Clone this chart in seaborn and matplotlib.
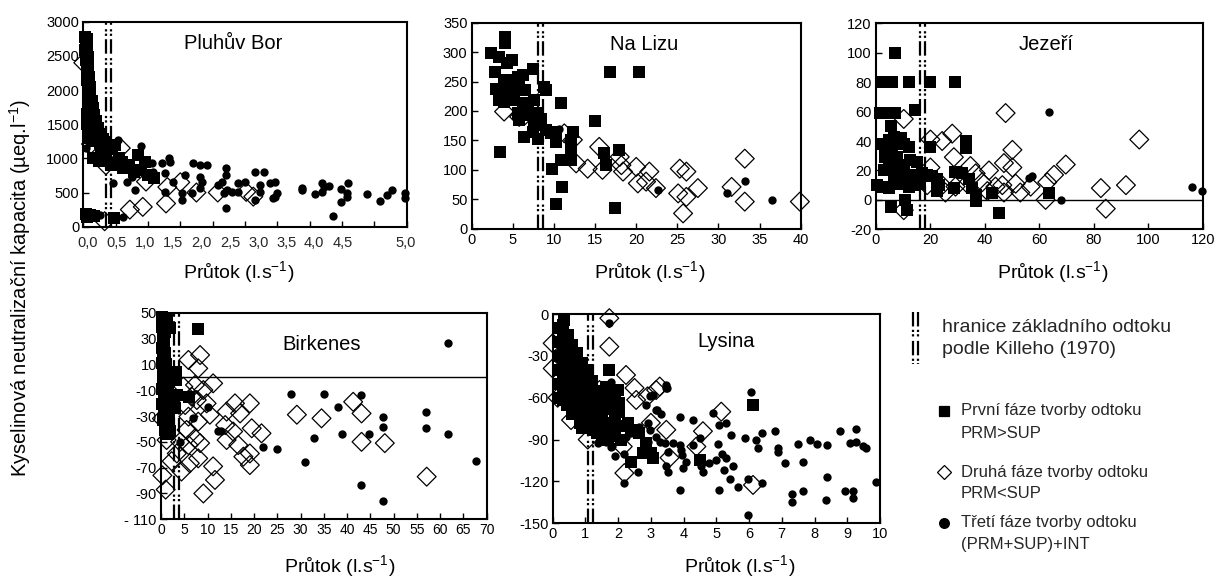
import matplotlib
matplotlib.use("Agg")
import matplotlib.pyplot as plt
from matplotlib.lines import Line2D
import seaborn as sns

sns.set_theme(style="white")
plt.rcParams["font.family"] = ["Liberation Sans", "DejaVu Sans"]
plt.rcParams["mathtext.fontset"] = "custom"
plt.rcParams["mathtext.rm"] = "Liberation Sans"
plt.rcParams["mathtext.it"] = "Liberation Sans:italic"
plt.rcParams["mathtext.default"] = "regular"

# ---------------------------------------------------------------- data
# (průtok, KNK) pairs for the three runoff-generation phases of each catchment

pluhuv_prvni = [
    (0.03, 2780), (0.05, 2740), (0.04, 2690), (0.06, 2640), (0.03, 2590), (0.05, 2540),
    (0.07, 2490), (0.04, 2440), (0.06, 2390), (0.08, 2340), (0.05, 2290), (0.07, 2240),
    (0.09, 2190), (0.06, 2140), (0.08, 2090), (0.10, 2040), (0.07, 1990), (0.11, 1940),
    (0.09, 1890), (0.13, 1840), (0.10, 1790), (0.15, 1740), (0.12, 1690), (0.17, 1640),
    (0.14, 1590), (0.20, 1540), (0.16, 1490), (0.23, 1440), (0.19, 1400), (0.27, 1360),
    (0.22, 1320), (0.30, 1290), (0.33, 1240), (0.26, 1220), (0.38, 1180), (0.45, 1140),
    (0.05, 1650), (0.05, 1500), (0.08, 1400), (0.10, 1300), (0.13, 1250),
    (0.15, 1005), (0.43, 908), (0.62, 860), (0.85, 1054), (0.90, 835), (1.10, 713),
    (0.28, 1104), (0.49, 1200), (0.56, 1005), (0.70, 900), (0.78, 800), (1.00, 760),
    (0.35, 1000), (0.25, 960), (0.95, 950), (0.60, 950),
    (0.04, 190), (0.10, 170), (0.16, 150), (0.06, 140), (0.48, 125),
]
pluhuv_druha = [
    (0.00, 2400), (0.12, 1210), (0.35, 900), (0.58, 1150), (0.72, 250), (0.92, 290),
    (0.97, 660), (1.28, 340), (1.30, 580), (1.50, 650), (1.75, 500), (2.08, 500),
    (2.52, 510), (2.63, 440), (0.33, 80),
]
pluhuv_treti = [
    (0.04, 1146), (0.54, 1268), (0.90, 1185), (0.46, 634), (0.67, 659), (0.80, 537),
    (0.85, 805), (1.06, 927), (1.08, 805), (1.21, 927), (1.27, 780), (1.32, 1000),
    (1.34, 951), (1.27, 512), (1.39, 659), (1.52, 488), (1.52, 390), (1.58, 756),
    (1.68, 488), (1.70, 937), (1.81, 732), (1.83, 659), (1.81, 561), (1.81, 902),
    (1.91, 902), (2.09, 610), (2.14, 659), (2.17, 488), (2.20, 854), (2.20, 756),
    (2.20, 268), (2.22, 537), (2.30, 512), (2.40, 512), (2.40, 634), (2.50, 659),
    (2.66, 805), (2.66, 390), (2.74, 610), (2.74, 512), (2.79, 805), (2.89, 634),
    (2.97, 659), (3.00, 488), (2.97, 439), (2.94, 415), (3.38, 561), (3.38, 537),
    (3.59, 478), (3.69, 634), (3.69, 512), (3.72, 585), (3.80, 595), (3.87, 156),
    (3.98, 546), (3.99, 366), (4.08, 498), (4.09, 644), (4.08, 439), (4.39, 478),
    (4.59, 376), (4.70, 463), (4.78, 537), (4.98, 498), (4.98, 424),
    (0.26, 171), (0.46, 141), (0.62, 146), (0.30, 1100), (0.45, 980), (0.55, 950),
    (0.70, 880), (0.75, 720), (0.95, 750),
]

nalizu_prvni = [
    (2.3, 298), (3.3, 292), (2.85, 267), (4.07, 326), (4.07, 315), (4.35, 281),
    (4.96, 287), (3.94, 253), (3.94, 238), (3.94, 224), (3.94, 216), (4.76, 253),
    (4.96, 238), (5.16, 224), (4.76, 219), (5.57, 258), (5.77, 244), (6.18, 261),
    (6.5, 236), (6.18, 213), (5.57, 196), (5.77, 185), (6.8, 207), (7.4, 272),
    (7.0, 193), (6.38, 156), (7.6, 219), (8.0, 196), (7.6, 179), (8.2, 176),
    (8.0, 153), (7.4, 165), (8.8, 241), (9.0, 236), (8.4, 187), (9.0, 168),
    (9.6, 162), (10.2, 148), (10.85, 213), (10.2, 165), (9.75, 102), (10.2, 42),
    (10.85, 116), (10.98, 70), (12.3, 165), (12.07, 134), (12.07, 117), (12.07, 151),
    (3.5, 131), (15.0, 183), (16.1, 128), (16.3, 108), (16.8, 267), (17.9, 134),
    (17.4, 35), (20.4, 267), (3.3, 219), (2.9, 238),
]
nalizu_druha = [
    (3.94, 199), (5.77, 190), (6.5, 193), (11.26, 162), (12.3, 151), (12.7, 111),
    (14.1, 102), (15.5, 139), (15.9, 100), (18.0, 122), (18.2, 108), (18.4, 97),
    (20.0, 105), (20.2, 77), (21.2, 80), (21.6, 97), (22.4, 69), (25.3, 102),
    (25.1, 60), (25.7, 26), (26.1, 97), (26.1, 54), (27.5, 69), (31.6, 71),
    (33.2, 119), (33.2, 46), (39.9, 46),
]
nalizu_treti = [(22.6, 65), (31.0, 60), (33.2, 81), (36.5, 48), (10.6, 170)]

jezeri_prvni = [
    (7.1, 100), (2.2, 80), (5.9, 80), (12.3, 80), (20.0, 80), (29.2, 80),
    (1.6, 59), (4.0, 59), (7.1, 59), (14.5, 61), (5.5, 50), (5.6, -5),
    (10.8, 0), (11.4, -7), (45.2, -9), (20.0, 36), (32.9, 40), (32.9, 35),
    (28.6, 8), (29.2, 19), (31.7, 18), (34.1, 14), (35.3, 8), (36.6, -1),
    (36.6, 3), (42.7, 5), (63.6, 5), (22.5, 6),
    (2.2, 38), (3.4, 34), (4.7, 41), (6.5, 43), (9.0, 42), (10.2, 38), (12.0, 36),
    (3.4, 29), (5.9, 27), (7.7, 29), (2.8, 20), (4.7, 23), (6.5, 19), (10.2, 24),
    (12.6, 27), (15.1, 26), (0.4, 10), (2.2, 9), (4.7, 8), (6.5, 12), (8.3, 11),
    (10.8, 14), (12.6, 17), (14.5, 16), (16.9, 18), (18.8, 17), (20.6, 16),
    (22.5, 14), (23.1, 10), (16.3, 11), (12.0, 9), (14.5, 10), (5.9, 32),
    (5.9, 36), (9.0, 18), (7.1, 16),
]
jezeri_druha = [
    (10.2, 55), (10.2, -7), (20.0, 41), (24.3, 40), (28.0, 45), (28.6, 29),
    (20.0, 22), (18.8, 10), (24.3, 10), (25.5, 5), (34.7, 23), (36.6, 18),
    (41.5, 20), (39.0, 12), (40.9, 6), (43.9, 9), (46.4, 10), (47.0, 5),
    (47.6, 59), (47.0, 25), (50.1, 34), (50.1, 22), (51.3, 11), (53.0, 5),
    (56.8, 9), (62.3, 0), (62.9, 12), (65.4, 17), (69.7, 24), (82.6, 8),
    (84.4, -6), (91.8, 10), (96.7, 41), (33.5, 11), (29.2, 9),
]
jezeri_treti = [(63.6, 60), (56.2, 15), (57.2, 16), (67.9, 0), (116.0, 8.6), (119.6, 5.7)]

birkenes_prvni = [
    (0.3, 47), (0.6, 43), (0.3, 39), (0.8, 35), (0.4, 31), (0.7, 27), (0.3, 23),
    (0.9, 19), (0.5, 15), (0.3, 11), (0.8, 7), (0.4, 3), (1.0, -1), (0.5, -5),
    (0.3, -9), (1.1, -13), (0.6, -17), (0.3, -21), (1.3, -25), (0.7, -29),
    (0.4, -33), (1.5, -37), (0.9, -41), (1.6, -44), (1.2, 45), (1.9, 38),
    (8.0, 37), (3.2, 4), (3.2, -2), (3.4, -14), (6.1, -15), (2.6, -19),
    (3.0, -24), (1.9, -42), (1.2, -20), (1.5, -10), (1.7, -30), (1.1, 10),
]
birkenes_druha = [
    (0.3, -76), (1.0, -87), (0.2, -32), (5.9, 13.4), (8.4, 17.2), (8.0, 6.9),
    (11.2, -4.7), (4.8, -7.3), (7.3, -6), (6.6, -15), (9.1, -9.9), (7.7, -17.6),
    (5.2, -21.5), (9.8, -20.2), (10.5, -29), (5.9, -30.5), (8.0, -34.4),
    (5.5, -40.8), (7.3, -47.3), (8.4, -51), (5.9, -52.5), (4.1, -50), (3.4, -59),
    (6.2, -66.6), (4.4, -73), (2.3, -65), (8.0, -62.8), (11.2, -69), (11.6, -79.5),
    (9.1, -90), (15.9, -20.2), (14.1, -26.6), (17.0, -28), (19.1, -20.2),
    (13.8, -37), (15.5, -42), (14.1, -48.6), (16.6, -52.5), (19.5, -39.5),
    (21.6, -43.4), (19.1, -59), (19.1, -68), (17.7, -61.5), (29.2, -29),
    (34.5, -31.8), (41.3, -19), (43.1, -28), (43.1, -50), (48.1, -51),
    (57.1, -77), (1.2, -48.6),
]
birkenes_treti = [
    (10.0, -23.3), (12.3, -42), (13.0, -41.6), (6.9, -31.8), (4.1, -50), (1.9, -43.4),
    (22.0, -54), (25.0, -55.8), (28.0, -13.2), (31.0, -65.4), (32.9, -47.3),
    (35.0, -13.2), (38.0, -23.3), (38.8, -44), (43.0, -14), (43.0, -83.4),
    (44.8, -44), (47.8, -31), (47.8, -38.3), (47.8, -95.5), (57.0, -26.6),
    (57.0, -39), (61.7, 26.8), (61.7, -44), (67.7, -64.6),
]

lysina_prvni = [
    (0.36, -4.3), (0.46, -15), (0.82, -40), (1.73, -40), (0.31, -61.6), (0.82, -78),
    (0.97, -73.6), (1.63, -52), (1.99, -54.5), (1.84, -61.6), (2.04, -64),
    (1.43, -80.7), (1.63, -85.5), (1.22, -83), (2.3, -78.3), (2.4, -105.8),
    (2.65, -85.5), (2.76, -99.8), (3.0, -99.8), (3.06, -103), (4.5, -104.6),
    (6.12, -65.2), (1.89, -76), (2.04, -70), (2.4, -83), (2.86, -92.7),
    (0.15, -10), (0.15, -20), (0.15, -30), (0.15, -40), (0.15, -50), (0.15, -60),
    (0.30, -8), (0.30, -18), (0.30, -28), (0.30, -38), (0.30, -48), (0.30, -58),
    (0.45, -25), (0.45, -35), (0.45, -45), (0.45, -55), (0.45, -65),
    (0.60, -22), (0.60, -32), (0.60, -42), (0.60, -52), (0.60, -62), (0.60, -72),
    (0.75, -28), (0.75, -38), (0.75, -48), (0.75, -58), (0.75, -68),
    (0.90, -35), (0.90, -45), (0.90, -55), (0.90, -65), (0.90, -82),
    (1.05, -40), (1.05, -50), (1.05, -60), (1.05, -70), (1.05, -80),
    (1.20, -48), (1.20, -58), (1.20, -68), (1.20, -76),
    (1.35, -55), (1.35, -65), (1.35, -75), (1.35, -85),
    (1.50, -60), (1.50, -70), (1.50, -88),
    (1.70, -58), (1.70, -68), (1.70, -78), (1.70, -90),
    (1.90, -62), (1.90, -84), (2.10, -80), (2.10, -90),
]
lysina_druha = [
    (1.73, -3), (1.73, -23.4), (0.0, -21), (0.0, -39), (0.15, -60), (0.56, -76),
    (1.07, -90), (2.24, -43.7), (2.5, -53), (2.55, -61.6), (2.9, -59), (3.27, -52),
    (3.16, -54.5), (2.19, -114), (2.14, -95), (3.47, -83), (3.57, -103),
    (4.39, -95), (4.59, -84), (5.15, -70), (6.12, -122.5), (3.0, -78),
    (1.43, -54.5), (0.8, -69),
]
lysina_treti = [
    (0.26, -11.5), (1.73, -6.7), (6.07, -56), (3.47, -51), (3.47, -53), (3.06, -58),
    (2.86, -65), (1.79, -48.5), (1.33, -55.6), (3.16, -69), (3.3, -72), (3.88, -73.5),
    (4.29, -76), (4.9, -71), (5.08, -79.5), (5.3, -78.3), (2.9, -78), (2.65, -80.7),
    (2.4, -85.5), (2.24, -88), (1.94, -89), (1.63, -91.5), (1.38, -92.7), (1.79, -95),
    (1.89, -102), (2.19, -100), (2.19, -121), (2.6, -113.5), (2.96, -83), (3.16, -88),
    (3.27, -91.5), (3.42, -92.7), (3.52, -98.6), (3.67, -92.7), (3.52, -113),
    (3.47, -109), (3.88, -94), (3.93, -97.5), (3.96, -101), (3.98, -110.6),
    (3.88, -126), (4.08, -105.8), (4.29, -94), (4.54, -109), (4.59, -113),
    (4.78, -107), (4.99, -104.6), (5.05, -93), (5.08, -126), (5.18, -100),
    (5.22, -112), (5.29, -103.4), (5.41, -118), (5.46, -87), (5.51, -109),
    (5.66, -124), (5.87, -89), (5.97, -118), (5.97, -144), (6.22, -90), (6.28, -96),
    (6.38, -121), (6.38, -85), (6.79, -84), (6.89, -96), (6.89, -98.6),
    (7.09, -106.5), (7.3, -129), (7.3, -135), (7.5, -93), (7.65, -126.6),
    (7.65, -105.8), (7.86, -90), (8.06, -93), (8.37, -94), (8.37, -117),
    (8.35, -133), (8.78, -84), (8.93, -126.6), (9.08, -92.7), (9.18, -126.6),
    (9.18, -132), (9.27, -91.5), (9.27, -82.6), (9.47, -94.6), (9.57, -96.2),
    (9.88, -120.6), (4.49, -89), (1.12, -76), (1.8, -94.6), (2.36, -84.3),
    (2.92, -91.5), (2.97, -59), (3.48, -53), (3.18, -68.8),
]

# baseflow limit after Kille (1970): pair of flow values per catchment
pluhuv_hranice = [0.35, 0.43]
nalizu_hranice = [8.1, 8.7]
jezeri_hranice = [16.2, 18.0]
birkenes_hranice = [2.7, 3.85]
lysina_hranice = [1.08, 1.24]

# tick values and labels
pluhuv_xticks = [0.0, 0.5, 1.0, 1.5, 2.0, 2.5, 3.0, 3.5, 4.0, 4.5, 5.0]
pluhuv_xlabel_pos = [0.07, 0.52, 0.96, 1.39, 1.83, 2.27, 2.71, 3.14, 3.57, 4.01, 4.98]
pluhuv_xlabels = ["0,0", "0,5", "1,0", "1,5", "2,0", "2,5", "3,0", "3,5", "4,0", "4,5", "5,0"]
pluhuv_yticks = [0, 500, 1000, 1500, 2000, 2500, 3000]
nalizu_xticks = [0, 5, 10, 15, 20, 25, 30, 35, 40]
nalizu_yticks = [0, 50, 100, 150, 200, 250, 300, 350]
jezeri_xticks = [0, 20, 40, 60, 80, 100, 120]
jezeri_yticks = [-20, 0, 20, 40, 60, 80, 100, 120]
birkenes_xticks = [0, 5, 10, 15, 20, 25, 30, 35, 40, 45, 50, 55, 60, 65, 70]
birkenes_yticks = [-110, -90, -70, -50, -30, -10, 10, 30, 50]
lysina_xticks = [0, 1, 2, 3, 4, 5, 6, 7, 8, 9, 10]
lysina_yticks = [-150, -120, -90, -60, -30, 0]

W, H = 1222, 582
BASEFLOW_STYLE = dict(color="black", lw=1.6, linestyle=(0, (6.5, 1.5, 1, 1, 1, 2)))
XLABEL = "Průtok (l.s$^{-1}$)"


def px_rect(left, top, right, bottom):
    return [left / W, 1 - bottom / H, (right - left) / W, (bottom - top) / H]


def draw_panel(ax, prvni, druha, treti, hranice, xlim, ylim, xticks, yticks,
               title, title_xy, xlabel_xy, zero_line=False, ytick_fmt=str,
               xtick_size=10.5):
    xs, ys = zip(*prvni)
    sns.scatterplot(x=list(xs), y=list(ys), ax=ax, marker="s", s=82, color="black",
                    linewidth=0, clip_on=False, zorder=3)
    xs, ys = zip(*druha)
    sns.scatterplot(x=list(xs), y=list(ys), ax=ax, marker="D", s=92, facecolor="none",
                    edgecolor="black", linewidth=0.9, clip_on=False, zorder=4)
    xs, ys = zip(*treti)
    sns.scatterplot(x=list(xs), y=list(ys), ax=ax, marker="o", s=36, color="black",
                    linewidth=0, clip_on=False, zorder=5)
    for xv in hranice:
        ax.axvline(xv, zorder=6, **BASEFLOW_STYLE)
    if zero_line:
        ax.axhline(0, color="black", lw=1.0, zorder=2)
    ax.set_xlim(*xlim)
    ax.set_ylim(*ylim)
    ax.set_xticks(xticks)
    ax.set_yticks(yticks)
    ax.set_yticklabels([ytick_fmt(v) for v in yticks])
    ax.tick_params(direction="in", length=4, width=1, colors="black", labelsize=10.5,
                   pad=3, left=True, bottom=True)
    ax.tick_params(axis="x", labelsize=xtick_size)
    for sp in ax.spines.values():
        sp.set_visible(True)
        sp.set_color("black")
        sp.set_linewidth(1.5)
    ax.set_facecolor("white")
    ax.text(title_xy[0], title_xy[1], title, transform=ax.transAxes, ha="center",
            va="center", fontsize=14.5, color="black")
    ax.text(xlabel_xy[0], xlabel_xy[1], XLABEL, transform=ax.transAxes, ha="center",
            va="center", fontsize=14, color="black")
    ax.set_xlabel("")
    ax.set_ylabel("")


fig = plt.figure(figsize=(W / 100, H / 100), dpi=100)
fig.patch.set_facecolor("white")

ax1 = fig.add_axes(px_rect(83.3, 21.7, 406.5, 226.7))
draw_panel(ax1, pluhuv_prvni, pluhuv_druha, pluhuv_treti, pluhuv_hranice,
           (0, 5), (0, 3000), pluhuv_xticks, pluhuv_yticks, "Pluhův Bor",
           (0.463, 0.896), (0.48, -0.22))
ax1.set_xticklabels([""] * len(pluhuv_xticks))
ax1.set_xticks(pluhuv_xlabel_pos, labels=pluhuv_xlabels, minor=True)
ax1.tick_params(axis="x", which="minor", length=0, labelsize=10.5, pad=7)

ax2 = fig.add_axes(px_rect(471.7, 22.7, 800.7, 228.7))
draw_panel(ax2, nalizu_prvni, nalizu_druha, nalizu_treti, nalizu_hranice,
           (0, 40), (0, 350), nalizu_xticks, nalizu_yticks, "Na Lizu",
           (0.523, 0.892), (0.54, -0.21))

ax3 = fig.add_axes(px_rect(876, 23.3, 1202.7, 229.3))
draw_panel(ax3, jezeri_prvni, jezeri_druha, jezeri_treti, jezeri_hranice,
           (0, 120), (-20, 120), jezeri_xticks, jezeri_yticks, "Jezeří",
           (0.522, 0.895), (0.54, -0.207), zero_line=True)

ax4 = fig.add_axes(px_rect(161, 312.7, 486.7, 519.3))
draw_panel(ax4, birkenes_prvni, birkenes_druha, birkenes_treti, birkenes_hranice,
           (0, 70), (-110, 50), birkenes_xticks, birkenes_yticks, "Birkenes",
           (0.494, 0.844), (0.55, -0.226), zero_line=True,
           ytick_fmt=lambda v: "- 110" if v == -110 else str(v), xtick_size=10)

ax5 = fig.add_axes(px_rect(552.7, 314, 880, 523.3))
draw_panel(ax5, lysina_prvni, lysina_druha, lysina_treti, lysina_hranice,
           (0, 10), (-150, 0), lysina_xticks, lysina_yticks, "Lysina",
           (0.529, 0.868), (0.57, -0.204))

# shared y-axis title
fig.text(20 / W, 1 - 288 / H, "Kyselinová neutralizační kapacita (µeq.l$^{-1}$)",
         rotation=90, ha="center", va="center", fontsize=14.5, color="black")

# key
for xp in (913, 918):
    fig.add_artist(Line2D([xp / W, xp / W], [1 - 312 / H, 1 - 364 / H],
                          transform=fig.transFigure, **BASEFLOW_STYLE))
fig.text(942 / W, 1 - 328 / H, "hranice základního odtoku", fontsize=14,
         va="center", ha="left")
fig.text(942 / W, 1 - 350 / H, "podle Killeho (1970)", fontsize=14,
         va="center", ha="left")

key_rows = [
    ("s", "black", 7.0, 411, "První fáze tvorby odtoku", "PRM>SUP"),
    ("D", "none", 7.5, 472, "Druhá fáze tvorby odtoku", "PRM<SUP"),
    ("o", "black", 7.0, 523, "Třetí fáze tvorby odtoku", "(PRM+SUP)+INT"),
]
for mk, fc, ms, yp, line1, line2 in key_rows:
    fig.add_artist(Line2D([944 / W], [1 - yp / H], marker=mk, markersize=ms,
                          markerfacecolor=fc, markeredgecolor="black",
                          markeredgewidth=0.9, linestyle="none",
                          transform=fig.transFigure))
    fig.text(961 / W, 1 - yp / H, line1, fontsize=12, va="center", ha="left")
    fig.text(961 / W, 1 - (yp + 22) / H, line2, fontsize=12, va="center", ha="left")

fig.savefig("out.png", dpi=100, facecolor="white")
